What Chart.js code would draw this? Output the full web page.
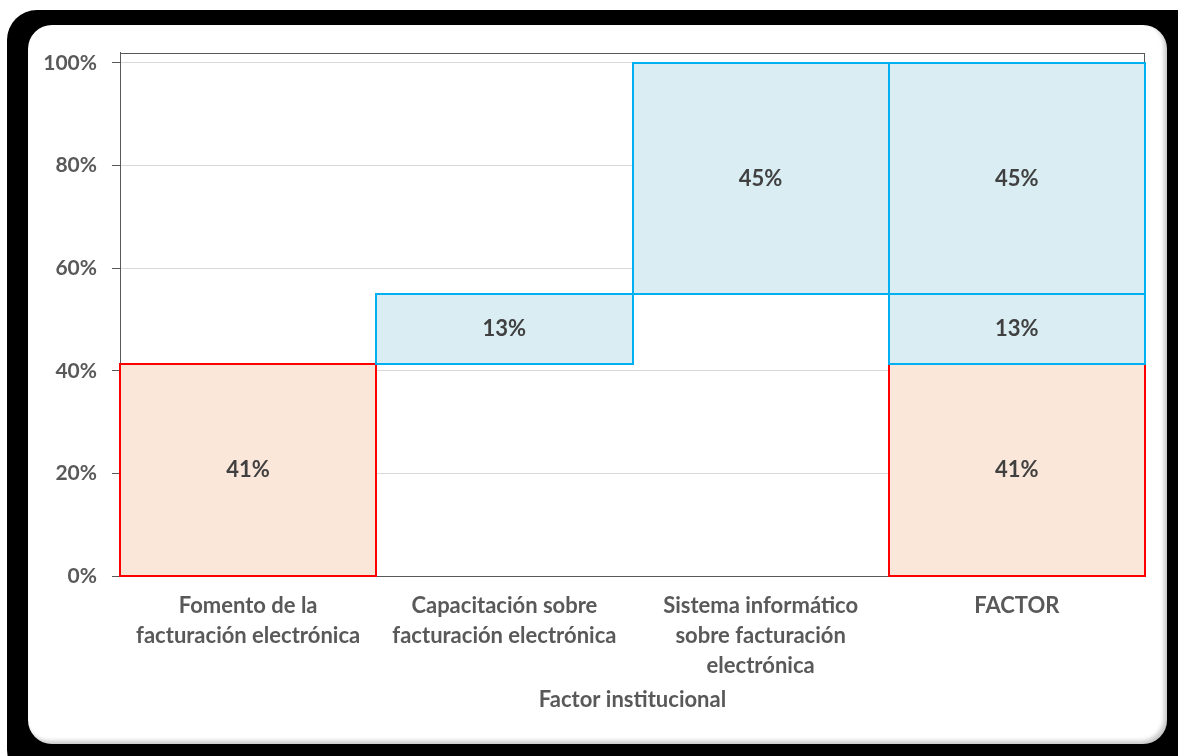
<!DOCTYPE html>
<html>
<head>
<meta charset="utf-8">
<script src="https://cdn.jsdelivr.net/npm/chart.js@4"></script>
<style>
    html, body { margin: 0; padding: 0; background: #fff; width: 1178px; height: 756px; overflow: hidden; }
    .outer { position: absolute; left: 7px; top: 10px; width: 1200px; height: 770px; background: #000; border-radius: 30px; }
    .card { position: absolute; left: 28px; top: 25px; width: 1139px; height: 719px; background: #fff; border-radius: 24px;
            box-shadow: inset -3px -3px 4px rgba(0, 0, 0, 0.22); }
    .card canvas { position: absolute; left: 0; top: 0; }
</style>
</head>
<body>
<div class="outer"></div>
<div class="card"><canvas id="waterfall" width="1139" height="719"></canvas></div>
<script>
// Chart data
const categories = [
    ['Fomento de la', 'facturación electrónica'],
    ['Capacitación sobre', 'facturación electrónica'],
    ['Sistema informático', 'sobre facturación', 'electrónica'],
    'FACTOR'
];
const factorValues = [41.4, 13.5, 45.1];
const valueLabels = ['41%', '13%', '45%'];
const yTicks = [0, 20, 40, 60, 80, 100];
const axisTitle = 'Factor institucional';

const borderColors = ['#ff0000', '#00b0f0', '#00b0f0'];
const fillColors = ['#fbe7d9', '#daedf3', '#daedf3'];

const FONT = "Lato, 'Open Sans', sans-serif";

// build floating bars: each part sits on the running total, repeated in the FACTOR column
let running = 0;
const datasets = factorValues.map((v, i) => {
    const from = running;
    running += v;
    const data = categories.map((c, j) => (j === i || j === categories.length - 1) ? [from, running] : null);
    return {
        label: valueLabels[i],
        data: data,
        backgroundColor: fillColors[i],
        edgeColor: borderColors[i],
        borderWidth: 0,
        inflateAmount: 0,
        grouped: false,
        barPercentage: 1,
        categoryPercentage: 1
    };
});

// plot frame behind the bars
const frame = {
    id: 'frame',
    beforeDatasetsDraw(chart) {
        const { ctx, chartArea: a } = chart;
        ctx.save();
        ctx.strokeStyle = '#595959';
        ctx.lineWidth = 1;
        ctx.strokeRect(Math.round(a.left) + 0.5, Math.round(a.top) + 0.5, Math.round(a.right - a.left) - 1, Math.round(a.bottom - a.top));
        ctx.restore();
    }
};

// bar outlines centred on the edges (so touching bars share one line), then the value labels
const barOutlines = {
    id: 'barOutlines',
    afterDatasetsDraw(chart) {
        const ctx = chart.ctx;
        ctx.save();
        ctx.lineWidth = 2;
        chart.data.datasets.forEach((ds, i) => {
            ctx.strokeStyle = ds.edgeColor;
            chart.getDatasetMeta(i).data.forEach((bar, j) => {
                if (!ds.data[j]) return;
                // snap to whole pixels so shared edges stay crisp
                const x0 = Math.round(bar.x - bar.width / 2);
                const x1 = Math.round(bar.x + bar.width / 2);
                const y0 = Math.round(Math.min(bar.y, bar.base));
                const y1 = Math.round(Math.max(bar.y, bar.base));
                ctx.strokeRect(x0, y0, x1 - x0, y1 - y0);
            });
        });

        ctx.font = 'bold 22px ' + FONT;
        ctx.fillStyle = '#404040';
        ctx.textAlign = 'center';
        ctx.textBaseline = 'middle';
        chart.data.datasets.forEach((ds, i) => {
            chart.getDatasetMeta(i).data.forEach((bar, j) => {
                if (!ds.data[j]) return;
                ctx.fillText(ds.label, bar.x, (bar.y + bar.base) / 2);
            });
        });
        ctx.restore();
    }
};

new Chart(document.getElementById('waterfall'), {
    type: 'bar',
    data: { labels: categories, datasets: datasets },
    options: {
        responsive: false,
        animation: false,
        layout: { padding: { left: 0, top: 27, right: 22, bottom: 0 } },
        plugins: { legend: { display: false }, tooltip: { enabled: false } },
        scales: {
            x: {
                stacked: false,
                grid: { display: false, drawTicks: false },
                border: { display: true, color: '#000', width: 1 },
                ticks: {
                    color: '#595959',
                    padding: 15,
                    maxRotation: 0,
                    autoSkip: false,
                    font: { family: FONT, size: 22, weight: 'bold', lineHeight: '30px' }
                },
                title: {
                    display: true,
                    text: axisTitle,
                    color: '#595959',
                    font: { family: FONT, size: 22, weight: 'bold' },
                    padding: { top: 0, bottom: 31 }
                },
                afterFit(scale) { scale.height = 168; }
            },
            y: {
                min: 0,
                max: 102,
                afterBuildTicks(scale) { scale.ticks = yTicks.map(v => ({ value: v })); },
                grid: { color: '#d9d9d9', tickColor: '#595959', tickLength: 8 },
                border: { display: true, color: '#595959', width: 1 },
                ticks: {
                    color: '#595959',
                    padding: 15,
                    font: { family: FONT, size: 21, weight: 'bold' },
                    callback: v => v + '%'
                },
                afterFit(scale) { scale.width = 92; }
            }
        }
    },
    plugins: [frame, barOutlines]
});
</script>
</body>
</html>
